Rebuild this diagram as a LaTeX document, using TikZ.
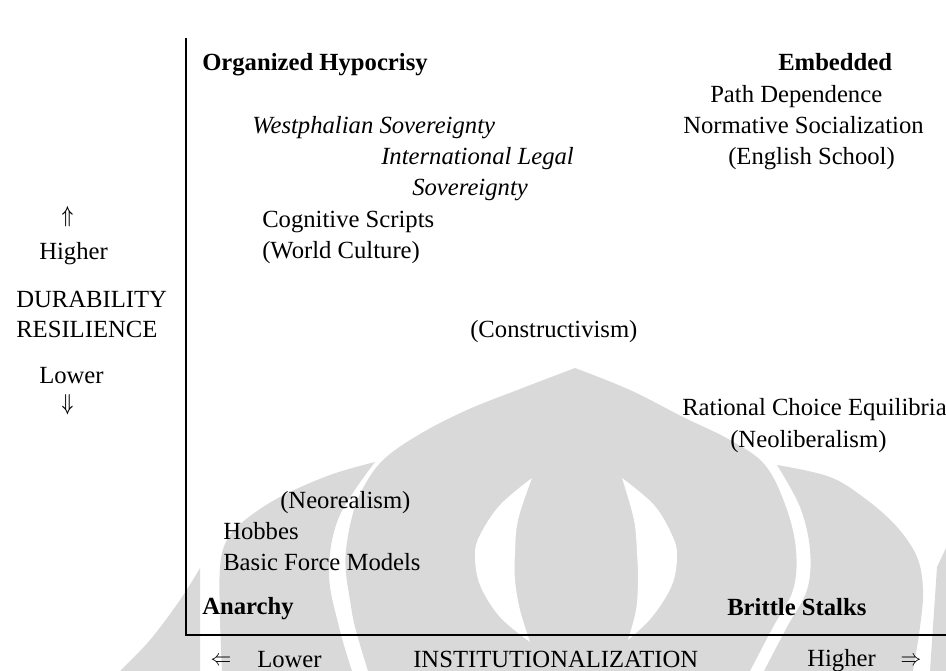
\documentclass[tikz,border=0pt]{standalone}
\usepackage{fontspec}
\usepackage{graphicx}
\setmainfont{Liberation Serif}
\definecolor{wm}{HTML}{D9D9D9}
\tikzset{
  lbl/.style={font=\fontsize{18.5}{22}\selectfont, inner sep=0pt, anchor=base west},
  lblb/.style={lbl, font=\fontsize{18.5}{22}\selectfont\bfseries},
  lbli/.style={lbl, font=\fontsize{18.5}{22}\selectfont\itshape},
  arr/.style={font=\fontsize{18.5}{22}\selectfont, inner sep=0pt, anchor=center},
  axis/.style={draw=black, line width=1pt},
  wmfill/.style={fill=wm, draw=none},
  wmcut/.style={fill=white, draw=none}
}
\begin{document}
\begin{tikzpicture}[x=0.75pt, y=-0.75pt]
\useasboundingbox (0,0) rectangle (946,671);

% background emblem
\fill[wmfill] plot[smooth, tension=.6] coordinates {(575,368) (520,389) (467,410) (420,434) (383,460) (362,490) (352,517) (346,550) (346,573) (350,600) (355,627) (368,671)}
  -- (750,671)
  -- plot[smooth, tension=.6] coordinates {(750,671) (773,627) (793,590) (796,550) (786,507) (765,465) (730,440) (683,417) (630,390) (575,368)} -- cycle;
\fill[wmfill] plot[smooth, tension=.6] coordinates {(375,462) (339,517) (329,573) (339,627) (352,671)}
  -- (222,671)
  -- plot[smooth, tension=.6] coordinates {(222,671) (220,620) (220,567) (227,540) (245,520) (280,497) (330,475) (375,462)} -- cycle;
\fill[wmfill] plot[smooth, tension=.6] coordinates {(777,465) (800,507) (810,550) (807,590) (787,627) (764,671)}
  -- (913,671)
  -- plot[smooth, tension=.6] coordinates {(913,671) (920,627) (923,590) (917,557) (897,527) (867,500) (830,477) (777,465)} -- cycle;
\fill[wmfill] (200,568) -- (200,671) -- (120,671)
  -- plot[smooth, tension=.6] coordinates {(120,671) (150,640) (180,600) (200,568)} -- cycle;
\fill[wmfill] (946,548) -- (937,567) -- (930,671) -- (946,671) -- cycle;
\fill[wmcut] plot[smooth, tension=.6] coordinates {(532,478) (500,505) (480,535) (475,555) (480,585) (500,617) (530,642)}
  -- plot[smooth, tension=.6] coordinates {(530,642) (520,610) (515,580) (515,553) (518,520) (532,478)} -- cycle;
\fill[wmcut] plot[smooth, tension=.6] coordinates {(622,478) (654,505) (672,535) (677,555) (672,585) (652,617) (628,640)}
  -- plot[smooth, tension=.6] coordinates {(628,640) (636,610) (638,580) (637,553) (634,520) (622,478)} -- cycle;

% axes
\coordinate (ytop) at (186,38);
\coordinate (orig) at (186,635);
\coordinate (xend) at (946,635);
\draw[axis] (ytop) -- (orig) -- (xend);

% corner labels
\node[lblb] (hyp) at (202,70) {Organized Hypocrisy};
\node[lblb] (emb) at (778,70) {Embedded};
\node[lblb] (anar) at (202,614) {Anarchy};
\node[lblb] (brit) at (727,615) {Brittle Stalks};

% upper right
\node[lbl] (path) at (710,102) {Path Dependence};
\node[lbl] (norm) at (683,133) {Normative Socialization};
\node[lbl] (engl) at (728,164) {(English School)};

% upper left
\node[lbli] (west) at (252,133) {Westphalian Sovereignty};
\node[lbli] (ilegal) at (381,164) {International Legal};
\node[lbli] (sov) at (412,195) {Sovereignty};
\node[lbl] (cog) at (262,227) {Cognitive Scripts};
\node[lbl] (world) at (262,258) {(World Culture)};

% middle
\node[lbl] (constr) at (470,337) {(Constructivism)};
\node[lbl] (rat) at (682,415) {Rational Choice Equilibria};
\node[lbl] (neolib) at (730,447) {(Neoliberalism)};

% lower left
\node[lbl] (neoreal) at (280,508) {(Neorealism)};
\node[lbl] (hobbes) at (223,539) {Hobbes};
\node[lbl] (bfm) at (223,570) {Basic Force Models};

% vertical axis label
\node[arr] (uparr) at (67.5,217) {\scalebox{0.7}[1]{\boldmath$\Uparrow$}};
\node[lbl] (vhigh) at (39,259) {Higher};
\node[lbl] (dura) at (16,307) {DURABILITY};
\node[lbl] (resil) at (16,337) {RESILIENCE};
\node[lbl] (vlow) at (39,383) {Lower};
\node[arr] (dnarr) at (67.5,405) {\scalebox{0.7}[1]{\boldmath$\Downarrow$}};

% horizontal axis label
\node[arr] (lfarr) at (221,661) {\scalebox{0.9}[1]{$\Leftarrow$}};
\node[lbl] (hlow) at (257,667) {Lower};
\node[lbl] (inst) at (413,667) {INSTITUTIONALIZATION};
\node[lbl] (hhigh) at (807,666) {Higher};
\node[arr] (rtarr) at (911,661) {\scalebox{0.9}[1]{$\Rightarrow$}};
\end{tikzpicture}
\end{document}
